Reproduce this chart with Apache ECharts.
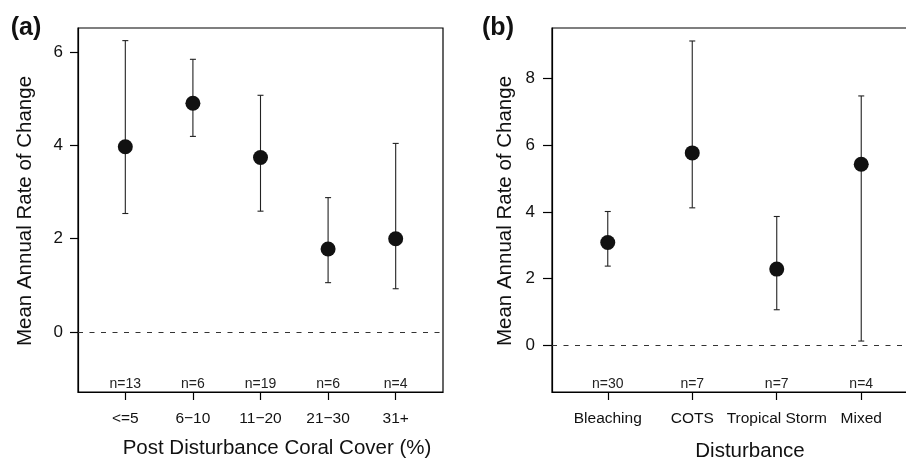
<!DOCTYPE html>
<html>
<head>
<meta charset="utf-8">
<script src="https://cdn.jsdelivr.net/npm/echarts@6/dist/echarts.min.js"></script>
<style>
html,body{margin:0;padding:0;background:#fff;}
#c{width:906px;height:461px;}
</style>
</head>
<body>
<div id="c"></div>
<script>
// ---- data ----
const catsA = ['<=5', '6\u221210', '11\u221220', '21\u221230', '31+'];
const meanA = [3.97, 4.90, 3.74, 1.78, 2.00];
const lowA  = [2.54, 4.19, 2.59, 1.06, 0.93];
const highA = [6.24, 5.84, 5.07, 2.88, 4.04];
const nA    = ['n=13', 'n=6', 'n=19', 'n=6', 'n=4'];

const catsB = ['Bleaching', 'COTS', 'Tropical Storm', 'Mixed'];
const meanB = [3.08, 5.77, 2.28, 5.43];
const lowB  = [2.37, 4.12, 1.06, 0.12];
const highB = [4.01, 9.13, 3.86, 7.48];
const nB    = ['n=30', 'n=7', 'n=7', 'n=4'];

const yTicksA = [0, 2, 4, 6];
const yTicksB = [0, 2, 4, 6, 8];

// ---- chart ----
const FONT = 'Liberation Sans, Arial, Helvetica, sans-serif';
const chart = echarts.init(document.getElementById('c'), null, {renderer: 'canvas'});

function xAxisFor(cats, gridIndex, min, max) {
  const vals = cats.map((_, i) => i + 1);
  return {
    type: 'value', gridIndex, min, max,
    splitLine: {show: false},
    axisLine: {show: true, onZero: false, lineStyle: {color: '#000', width: 1.2}},
    axisTick: {show: true, inside: false, length: 8, customValues: vals, lineStyle: {color: '#000', width: 1.2}},
    axisLabel: {show: true, customValues: vals, margin: 19, color: '#111', fontFamily: FONT, fontSize: 15.5,
      formatter: v => cats[Math.round(v) - 1] || ''}
  };
}
function yAxisFor(ticks, gridIndex, min, max, margin, tlen) {
  return {
    type: 'value', gridIndex, min, max,
    splitLine: {show: false},
    axisLine: {show: true, lineStyle: {color: '#000', width: 1.2}},
    axisTick: {show: true, inside: false, length: tlen, customValues: ticks, lineStyle: {color: '#000', width: 1.2}},
    axisLabel: {show: true, customValues: ticks, margin: margin, color: '#111', fontFamily: FONT, fontSize: 17}
  };
}

function errSeries(idx, low, high) {
  return {
    type: 'custom', xAxisIndex: idx, yAxisIndex: idx, silent: true, z: 3,
    data: low.map((l, i) => [i + 1, l, high[i]]),
    renderItem: function (params, api) {
      const x = api.value(0);
      const p1 = api.coord([x, api.value(1)]);
      const p2 = api.coord([x, api.value(2)]);
      const cw = 3;
      const st = {stroke: '#222', lineWidth: 1.1};
      return {type: 'group', children: [
        {type: 'line', shape: {x1: p1[0], y1: p1[1], x2: p2[0], y2: p2[1]}, style: st},
        {type: 'line', shape: {x1: p1[0] - cw, y1: p1[1], x2: p1[0] + cw, y2: p1[1]}, style: st},
        {type: 'line', shape: {x1: p2[0] - cw, y1: p2[1], x2: p2[0] + cw, y2: p2[1]}, style: st}
      ]};
    }
  };
}
function meanSeries(idx, means) {
  return {
    type: 'scatter', xAxisIndex: idx, yAxisIndex: idx, silent: true, z: 5,
    symbol: 'circle', symbolSize: 15,
    itemStyle: {color: '#111', opacity: 1},
    data: means.map((m, i) => [i + 1, m]),
    markLine: {
      silent: true, symbol: 'none', animation: false,
      label: {show: false},
      lineStyle: {type: [5, 6.5], color: '#333', width: 1.1},
      data: [{yAxis: 0}]
    }
  };
}
function nSeries(idx, labels, yv) {
  return {
    type: 'custom', xAxisIndex: idx, yAxisIndex: idx, silent: true, z: 4,
    data: labels.map((_, i) => [i + 1, yv]),
    renderItem: function (params, api) {
      const p = api.coord([api.value(0), api.value(1)]);
      return {type: 'text', x: p[0], y: p[1], style: {text: labels[params.dataIndex], align: 'center', verticalAlign: 'middle',
        fill: '#222', font: '14px ' + FONT}};
    }
  };
}

const option = {
  animation: false,
  backgroundColor: '#fff',
  grid: [
    {left: 78, top: 28, width: 365, height: 364, show: true, borderColor: '#000', borderWidth: 1.2, backgroundColor: 'transparent', containLabel: false, outerBoundsMode: 'none'},
    {left: 552, top: 28, width: 365, height: 364, show: true, borderColor: '#000', borderWidth: 1.2, backgroundColor: 'transparent', containLabel: false, outerBoundsMode: 'none'}
  ],
  xAxis: [xAxisFor(catsA, 0, 0.3, 5.7), xAxisFor(catsB, 1, 0.34, 4.66)],
  yAxis: [yAxisFor(yTicksA, 0, -1.28, 6.51, 15, 8), yAxisFor(yTicksB, 1, -1.41, 9.52, 17, 9)],
  series: [
    errSeries(0, lowA, highA), meanSeries(0, meanA), nSeries(0, nA, -1.12),
    errSeries(1, lowB, highB), meanSeries(1, meanB), nSeries(1, nB, -1.18)
  ],
  graphic: [
    {type: 'text', x: 26, y: 28, style: {text: '(a)', font: 'bold 25px ' + FONT, fill: '#111', align: 'center', verticalAlign: 'middle'}},
    {type: 'text', x: 498, y: 28, style: {text: '(b)', font: 'bold 25px ' + FONT, fill: '#111', align: 'center', verticalAlign: 'middle'}},
    {type: 'text', x: 25, y: 211, rotation: Math.PI / 2,
      style: {text: 'Mean Annual Rate of Change', font: '20.5px ' + FONT, fill: '#111', align: 'center', verticalAlign: 'middle'}},
    {type: 'text', x: 505, y: 211, rotation: Math.PI / 2,
      style: {text: 'Mean Annual Rate of Change', font: '20.5px ' + FONT, fill: '#111', align: 'center', verticalAlign: 'middle'}},
    {type: 'text', x: 277, y: 448,
      style: {text: 'Post Disturbance Coral Cover (%)', font: '20.5px ' + FONT, fill: '#111', align: 'center', verticalAlign: 'middle'}},
    {type: 'text', x: 750, y: 451,
      style: {text: 'Disturbance', font: '20.5px ' + FONT, fill: '#111', align: 'center', verticalAlign: 'middle'}}
  ]
};
chart.setOption(option);
</script>
</body>
</html>
